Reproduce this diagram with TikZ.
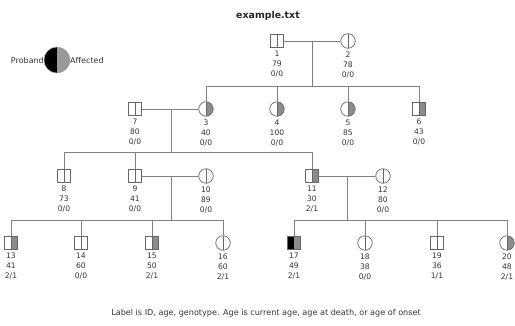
\documentclass[tikz,border=0pt]{standalone}
\usepackage{fontspec}
\setmainfont{DejaVu Sans}
\begin{document}
\begin{tikzpicture}[x=1pt,y=-1pt,
  ln/.style={draw=black!50, line width=0.7pt},
  male/.style={rectangle, draw=black!60, line width=0.7pt, minimum size=13pt, inner sep=0pt, fill=white,
    path picture={\draw[black!60, line width=0.7pt] (path picture bounding box.north) -- (path picture bounding box.south);}},
  female/.style={circle, draw=black!60, line width=0.7pt, minimum size=14.5pt, inner sep=0pt, fill=white,
    path picture={\draw[black!60, line width=0.7pt] (path picture bounding box.north) -- (path picture bounding box.south);}},
  aff/.style={path picture={\fill[black!45] (path picture bounding box.north) rectangle (path picture bounding box.south east);
    \draw[black!60, line width=0.7pt] (path picture bounding box.north) -- (path picture bounding box.south);}},
  affprob/.style={path picture={\fill[black!45] (path picture bounding box.north) rectangle (path picture bounding box.south east);
    \fill[black] (path picture bounding box.north) rectangle (path picture bounding box.south west);}},
  lab/.style={anchor=north, align=center, font=\fontsize{7.6}{9.8}\selectfont, text=black!80, inner sep=0pt},
  txt/.style={font=\fontsize{8}{9}\selectfont, text=black!80, inner sep=0pt}
]
\useasboundingbox (0,0) rectangle (515,325);

\node[font=\bfseries\fontsize{9.4}{11}\selectfont, text=black!85] (title) at (268,16) {example.txt};

% legend
\node[circle, minimum size=26pt, inner sep=0pt, draw=black!40, line width=0.4pt,
  path picture={\fill[black!40] (path picture bounding box.north) rectangle (path picture bounding box.south east);
  \fill[black] (path picture bounding box.north) rectangle (path picture bounding box.south west);}] (leg) at (57,60) {};
\node[txt, anchor=east] (legp) at (44,61) {Proband};
\node[txt, anchor=west] (lega) at (70,61) {Affected};

% generation 1
\node[male] (n1) at (277,41) {};
\node[female] (n2) at (348,41) {};
% generation 2
\node[male] (n7) at (135,109) {};
\node[female, aff] (n3) at (206,109) {};
\node[female, aff] (n4) at (277,109) {};
\node[female, aff] (n5) at (348,109) {};
\node[male, aff] (n6) at (419,109) {};
% generation 3
\node[male] (n8) at (64,176) {};
\node[male] (n9) at (135,176) {};
\node[female] (n10) at (206,176) {};
\node[male, aff] (n11) at (312,176) {};
\node[female] (n12) at (383,176) {};
% generation 4
\node[male, aff] (n13) at (11,243) {};
\node[male] (n14) at (81,243) {};
\node[male, aff] (n15) at (152,243) {};
\node[female] (n16) at (223,243) {};
\node[male, affprob] (n17) at (294,243) {};
\node[female] (n18) at (365,243) {};
\node[male] (n19) at (437,243) {};
\node[female, aff] (n20) at (507,243) {};

% labels
\foreach \n/\t in {1/{1\\79\\0/0},2/{2\\78\\0/0},7/{7\\80\\0/0},3/{3\\40\\0/0},4/{4\\100\\0/0},5/{5\\85\\0/0},6/{6\\43\\0/0},
  8/{8\\73\\0/0},9/{9\\41\\0/0},10/{10\\89\\0/0},11/{11\\30\\2/1},12/{12\\80\\0/0},
  13/{13\\41\\2/1},14/{14\\60\\0/0},15/{15\\50\\2/1},16/{16\\60\\2/1},17/{17\\49\\2/1},18/{18\\38\\0/0},19/{19\\36\\1/1},20/{20\\48\\2/1}}
  \node[lab] (l\n) at ([yshift=-3.2pt]n\n.south) {\t};

% family 1 x 2
\coordinate (m12) at (312,41);
\coordinate (s12) at (312,86);
\coordinate (s12a) at (206,86);
\coordinate (s12b) at (419,86);
\draw[ln] (n1.east) -- (n2.west);
\draw[ln] (m12) -- (s12);
\draw[ln] (s12a) -- (s12b);
\foreach \c in {3,4,5,6} \draw[ln] (n\c.north |- s12) -- (n\c.north);

% family 7 x 3
\coordinate (m73) at (171,109);
\coordinate (s73) at (171,152);
\coordinate (s73a) at (64,152);
\coordinate (s73b) at (312,152);
\draw[ln] (n7.east) -- (n3.west);
\draw[ln] (m73) -- (s73);
\draw[ln] (s73a) -- (s73b);
\foreach \c in {8,9,11} \draw[ln] (n\c.north |- s73) -- (n\c.north);

% family 9 x 10
\coordinate (m910) at (171,176);
\coordinate (s910) at (171,220);
\coordinate (s910a) at (11,220);
\coordinate (s910b) at (223,220);
\draw[ln] (n9.east) -- (n10.west);
\draw[ln] (m910) -- (s910);
\draw[ln] (s910a) -- (s910b);
\foreach \c in {13,14,15,16} \draw[ln] (n\c.north |- s910) -- (n\c.north);

% family 11 x 12
\coordinate (m1112) at (347,176);
\coordinate (s1112) at (347,220);
\coordinate (s1112a) at (294,220);
\coordinate (s1112b) at (507,220);
\draw[ln] (n11.east) -- (n12.west);
\draw[ln] (m1112) -- (s1112);
\draw[ln] (s1112a) -- (s1112b);
\foreach \c in {17,18,19,20} \draw[ln] (n\c.north |- s1112) -- (n\c.north);

\node[font=\fontsize{8.1}{9}\selectfont, text=black!80, inner sep=0pt] (cap) at (266,313) {Label is ID, age, genotype. Age is current age, age at death, or age of onset};
\end{tikzpicture}
\end{document}
